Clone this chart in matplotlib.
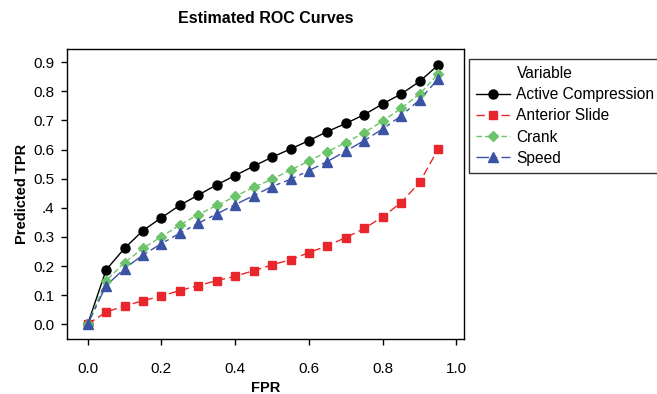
import matplotlib
matplotlib.use("Agg")
import matplotlib.pyplot as plt
from matplotlib.lines import Line2D

plt.rcParams["font.family"] = ["Liberation Sans", "DejaVu Sans"]

fpr = [0.00, 0.05, 0.10, 0.15, 0.20, 0.25, 0.30, 0.35, 0.40, 0.45,
       0.50, 0.55, 0.60, 0.65, 0.70, 0.75, 0.80, 0.85, 0.90, 0.95]

active_compression = [0.000, 0.187, 0.261, 0.322, 0.366, 0.409, 0.444, 0.479, 0.511, 0.543,
                      0.574, 0.602, 0.631, 0.662, 0.690, 0.720, 0.757, 0.791, 0.834, 0.890]
anterior_slide = [0.000, 0.042, 0.063, 0.081, 0.097, 0.116, 0.133, 0.150, 0.165, 0.184,
                  0.204, 0.222, 0.246, 0.270, 0.298, 0.329, 0.369, 0.418, 0.487, 0.601]
crank = [0.000, 0.150, 0.212, 0.261, 0.301, 0.341, 0.377, 0.408, 0.439, 0.471,
         0.498, 0.530, 0.561, 0.593, 0.624, 0.658, 0.698, 0.742, 0.791, 0.859]
speed = [0.000, 0.133, 0.191, 0.238, 0.277, 0.313, 0.347, 0.379, 0.411, 0.442,
         0.473, 0.498, 0.528, 0.559, 0.595, 0.631, 0.671, 0.716, 0.771, 0.842]

x_ticks = [0.0, 0.2, 0.4, 0.6, 0.8, 1.0]
x_ticklabels = ["0.0", "0.2", "0.4", "0.6", "0.8", "1.0"]
y_ticks = [0.0, 0.1, 0.2, 0.3, 0.4, 0.5, 0.6, 0.7, 0.8, 0.9]
y_ticklabels = ["0.0", "0.1", "0.2", "0.3", ".4", "0.5", "0.6", "0.7", "0.8", "0.9"]

fig = plt.figure(figsize=(6.57, 3.94), dpi=100)
ax = fig.add_axes([0.102, 0.140, 0.604, 0.736])

l1, = ax.plot(fpr, active_compression, color="black", lw=1.0, ls="-",
              marker="o", ms=6.5, label="Active Compression")
l2, = ax.plot(fpr, anterior_slide, color="#e8262b", lw=1.0, ls=(0, (6, 3)),
              marker="s", ms=5.5, label="Anterior Slide")
l3, = ax.plot(fpr, crank, color="#6cc46a", lw=1.0, ls=(0, (4, 2)),
              marker="D", ms=5, label="Crank")
l4, = ax.plot(fpr, speed, color="#3a53a4", lw=1.0, ls=(0, (9, 3, 3, 3)),
              marker="^", ms=6.5, label="Speed")

ax.set_xlim(-0.056, 1.02)
ax.set_ylim(-0.05, 0.946)
ax.set_xticks(x_ticks)
ax.set_xticklabels(x_ticklabels)
ax.set_yticks(y_ticks)
ax.set_yticklabels(y_ticklabels)
ax.tick_params(direction="out", length=4.3, width=1, labelsize=11)
ax.tick_params(axis="x", pad=12.5)
ax.tick_params(axis="y", pad=5)
for s in ax.spines.values():
    s.set_linewidth(1.0)

ax.set_xlabel("FPR", fontsize=10.5, fontweight="bold", labelpad=3.5)
ax.set_ylabel("Predicted TPR", fontsize=10.5, fontweight="bold", labelpad=3)
fig.text(0.404, 0.952, "Estimated ROC Curves", ha="center", va="center",
         fontsize=11.5, fontweight="bold")

blank = Line2D([], [], color="none")
leg = fig.legend([blank, l1, l2, l3, l4],
                 ["Variable", "Active Compression", "Anterior Slide", "Crank", "Speed"],
                 loc="upper left", bbox_to_anchor=(469 / 657, 1 - 59 / 394),
                 borderaxespad=0, fontsize=11.2, frameon=True, fancybox=False,
                 edgecolor="black", handlelength=2.2, handletextpad=0.4,
                 labelspacing=0.4, borderpad=0.45)
leg.get_frame().set_linewidth(1.0)

fig.savefig("out.png", dpi=100)
